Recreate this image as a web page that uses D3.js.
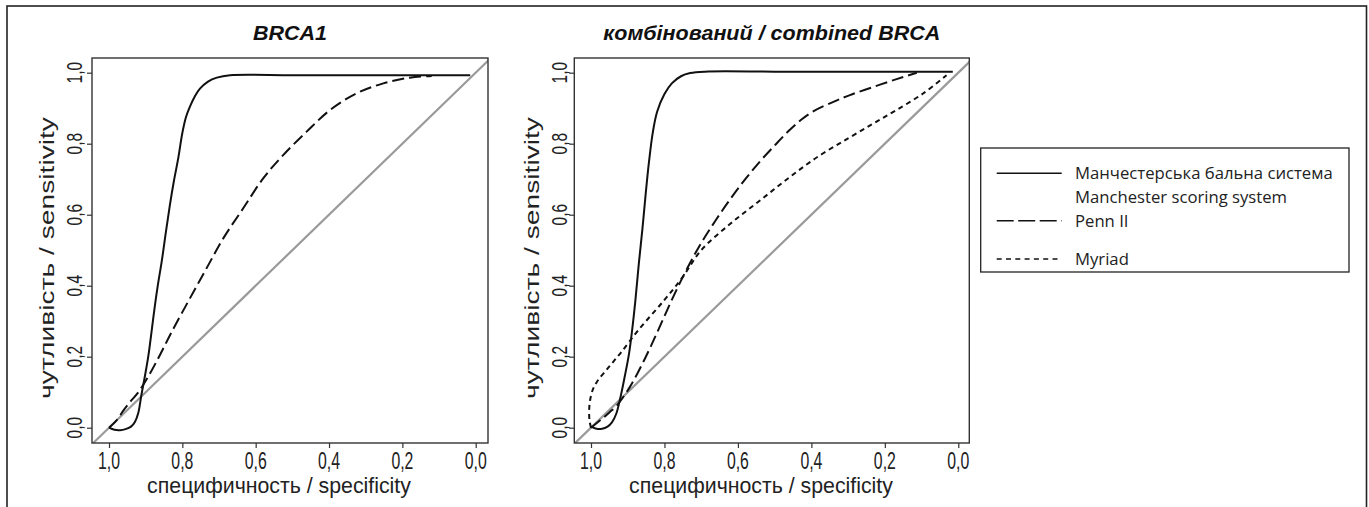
<!DOCTYPE html>
<html><head><meta charset="utf-8">
<script src="https://cdn.jsdelivr.net/npm/d3@7"></script>
<style>body{margin:0;background:#fff}svg{display:block}</style>
</head><body>
<svg id="c" width="1369" height="507"></svg>
<script>
// ---------- data ----------
const tickValues = [1.0, 0.8, 0.6, 0.4, 0.2, 0.0];
const tickLabels = ["1,0", "0,8", "0,6", "0,4", "0,2", "0,0"];
const panelTitles = ["BRCA1", "комбінований / combined BRCA"];
const xTitle = "специфичность / specificity";
const yTitle = "чутливість / sensitivity";
const legendLabels = [["Манчестерська бальна система", "Manchester scoring system"], ["Penn II"], ["Myriad"]];
const seriesNames = ["Manchester", "Penn II", "Myriad"];

// [specificity, sensitivity]
const brca1Manchester = [[1.0,0.0],[0.985,-0.006],[0.97,-0.007],[0.955,-0.004],[0.94,0.003],[0.929,0.017],[0.92,0.042],[0.912,0.09],[0.903,0.14],[0.893,0.2],[0.884,0.27],[0.876,0.335],[0.867,0.4],[0.856,0.47],[0.845,0.55],[0.834,0.627],[0.823,0.695],[0.811,0.76],[0.8,0.83],[0.79,0.875],[0.779,0.905],[0.765,0.935],[0.752,0.955],[0.73,0.975],[0.706,0.986],[0.67,0.993],[0.5,0.993],[0.3,0.993],[0.1,0.993],[0.015,0.993]];
const brca1Penn = [[1.0,0.0],[0.98,0.02],[0.961,0.048],[0.943,0.072],[0.92,0.1],[0.893,0.144],[0.861,0.205],[0.829,0.27],[0.779,0.365],[0.734,0.449],[0.688,0.534],[0.634,0.618],[0.579,0.703],[0.525,0.768],[0.461,0.834],[0.397,0.895],[0.325,0.942],[0.252,0.97],[0.179,0.986],[0.12,0.991]];
const combManchester = [[1.0,0.003],[0.985,-0.003],[0.97,-0.003],[0.955,0.003],[0.943,0.015],[0.931,0.04],[0.921,0.08],[0.908,0.145],[0.897,0.205],[0.888,0.275],[0.879,0.36],[0.87,0.46],[0.86,0.56],[0.851,0.66],[0.842,0.75],[0.832,0.83],[0.82,0.89],[0.8,0.94],[0.78,0.97],[0.755,0.99],[0.73,0.999],[0.69,1.003],[0.5,1.003],[0.3,1.003],[0.1,1.003],[0.015,1.003]];
const combPenn = [[1.0,0.0],[0.97,0.025],[0.95,0.043],[0.93,0.062],[0.894,0.115],[0.853,0.195],[0.817,0.275],[0.78,0.36],[0.74,0.445],[0.7,0.52],[0.66,0.585],[0.62,0.645],[0.58,0.7],[0.54,0.75],[0.5,0.795],[0.46,0.838],[0.427,0.868],[0.395,0.891],[0.34,0.918],[0.295,0.937],[0.231,0.96],[0.168,0.982],[0.113,1.0]];
const combMyriad = [[1.0,0.0],[1.004,0.02],[1.005,0.05],[1.002,0.08],[0.994,0.11],[0.98,0.135],[0.96,0.16],[0.94,0.185],[0.916,0.215],[0.871,0.275],[0.8,0.36],[0.75,0.425],[0.7,0.5],[0.62,0.575],[0.54,0.64],[0.46,0.705],[0.38,0.765],[0.3,0.815],[0.231,0.857],[0.168,0.895],[0.095,0.942],[0.032,0.993]];

// ---------- layout ----------
const svg = d3.select("#c");
const styles = {
  "Manchester": {dash: null},
  "Penn II": {dash: "12,5"},
  "Myriad": {dash: "5,4"}
};
const panels = [
  {title: panelTitles[0], x0: 109, x1: 475.7, boxL: 92, boxR: 488, yTickBase: 81.7, yTitleBase: 54, xTitleC: 279,
   series: [["Manchester", brca1Manchester], ["Penn II", brca1Penn]]},
  {title: panelTitles[1], x0: 591, x1: 958.3, boxL: 574.3, boxR: 969.3, yTickBase: 566.7, yTitleBase: 538.5, xTitleC: 761,
   series: [["Manchester", combManchester], ["Penn II", combPenn], ["Myriad", combMyriad]]}
];
const yTop = 58, yBot = 443;

// outer frame
svg.append("rect").attr("x", 7).attr("y", 6).attr("width", 1359.5).attr("height", 560)
  .attr("fill", "none").attr("stroke", "#222").attr("stroke-width", 1.6);

function fitScale(sel, w) { const n = sel.node().getComputedTextLength(); return w / n; }

const FONT = "'Liberation Sans', Arial, sans-serif";

panels.forEach((p, i) => {
  const x = d3.scaleLinear().domain([1, 0]).range([p.x0, p.x1]);
  const y = d3.scaleLinear().domain([0, 1]).range([427.7, 72.7]);
  const g = svg.append("g");
  const clipId = "clip" + i;
  svg.append("clipPath").attr("id", clipId).append("rect")
    .attr("x", p.boxL).attr("y", yTop).attr("width", p.boxR - p.boxL).attr("height", yBot - yTop);

  // diagonal reference line (sens = 1 - spec), extended across box
  const xs = [x.invert(p.boxL - 20), x.invert(p.boxR + 20)];
  g.append("line").attr("clip-path", `url(#${clipId})`)
    .attr("x1", x(xs[0])).attr("y1", y(1 - xs[0]))
    .attr("x2", x(xs[1])).attr("y2", y(1 - xs[1]))
    .attr("stroke", "#9a9a9a").attr("stroke-width", 2.2);

  // curves
  const line = d3.line().x(d => x(d[0])).y(d => y(d[1])).curve(d3.curveCatmullRom.alpha(0.5));
  p.series.forEach(([name, data]) => {
    g.append("path").datum(data).attr("d", line)
      .attr("fill", "none").attr("stroke", "#111").attr("stroke-width", 2)
      .attr("stroke-dasharray", styles[name].dash);
  });

  // box
  g.append("rect").attr("x", p.boxL).attr("y", yTop).attr("width", p.boxR - p.boxL).attr("height", yBot - yTop)
    .attr("fill", "none").attr("stroke", "#333").attr("stroke-width", 1.4);

  // x axis
  const xa = g.append("g").attr("transform", `translate(0,${yBot})`)
    .call(d3.axisBottom(x).tickValues(tickValues).tickSize(5).tickFormat(""));
  xa.select(".domain").remove();
  xa.selectAll(".tick line").attr("stroke", "#333").attr("stroke-width", 1.2);
  // y axis
  const ya = g.append("g").attr("transform", `translate(${p.boxL},0)`)
    .call(d3.axisLeft(y).tickValues(tickValues).tickSize(5).tickFormat(""));
  ya.select(".domain").remove();
  ya.selectAll(".tick line").attr("stroke", "#333").attr("stroke-width", 1.2);

  // x tick labels
  tickValues.forEach((v, k) => {
    const t = g.append("text").text(tickLabels[k]).attr("font-family", FONT).attr("font-size", 23)
      .attr("text-anchor", "middle").attr("fill", "#222");
    const s = fitScale(t, 22);
    t.attr("transform", `translate(${x(v)},469.3) scale(${s},1)`);
  });
  // y tick labels (rotated)
  tickValues.forEach((v, k) => {
    const t = g.append("text").text(tickLabels[k]).attr("font-family", FONT).attr("font-size", 22)
      .attr("text-anchor", "middle").attr("fill", "#222");
    const s = fitScale(t, 21.5);
    t.attr("transform", `translate(${p.yTickBase},${y(v)}) rotate(-90) scale(${s},1)`);
  });

  // x title
  const xt = g.append("text").text(xTitle).attr("font-family", FONT).attr("font-size", 22)
    .attr("text-anchor", "middle").attr("fill", "#222");
  const sx = fitScale(xt, 264);
  xt.attr("transform", `translate(${p.xTitleC},492.7) scale(${sx},1)`);
  // y title
  const yt = g.append("text").text(yTitle).attr("font-family", FONT).attr("font-size", 21)
    .attr("text-anchor", "middle").attr("fill", "#222");
  const sy = fitScale(yt, 282);
  yt.attr("transform", `translate(${p.yTitleBase},258) rotate(-90) scale(${sy},1)`);

  // panel title
  const tt = g.append("text").text(p.title).attr("font-family", FONT).attr("font-size", 20)
    .attr("font-weight", "bold").attr("font-style", "italic").attr("text-anchor", "middle").attr("fill", "#111");
  p.titleNode = tt;
  p.titleCenter = (p.boxL + p.boxR) / 2;
});
// panel titles share one horizontal scale fitted to the long title
const ts = fitScale(panels[1].titleNode, 337);
panels.forEach(p => p.titleNode.attr("transform", `translate(${p.titleCenter},39.5) scale(${ts},1)`));

// ---------- legend ----------
const lg = svg.append("g");
lg.append("rect").attr("x", 980.7).attr("y", 148).attr("width", 1349 - 980.7).attr("height", 272 - 148)
  .attr("fill", "#fff").attr("stroke", "#222").attr("stroke-width", 1.3);
const LFONT = "'Open Sans', 'Noto Sans', sans-serif";
const rows = [
  {name: seriesNames[0], lineY: 173.3, lines: legendLabels[0], base: [179, 202.5]},
  {name: seriesNames[1], lineY: 220.7, lines: legendLabels[1], base: [226.5]},
  {name: seriesNames[2], lineY: 259, lines: legendLabels[2], base: [265]}
];
const legDash = {"Manchester": null, "Penn II": "17,4.5", "Myriad": "5,4.3"};
let lscale = null;
rows.forEach(r => {
  lg.append("line").attr("x1", 996.7).attr("x2", 1061.7).attr("y1", r.lineY).attr("y2", r.lineY)
    .attr("stroke", "#111").attr("stroke-width", 1.6).attr("stroke-dasharray", legDash[r.name]);
  r.lines.forEach((txt, j) => {
    const t = lg.append("text").text(txt).attr("font-family", LFONT).attr("font-size", 16.5)
      .attr("fill", "#222");
    if (lscale === null) lscale = fitScale(t, 258);
    t.attr("transform", `translate(1075,${r.base[j]}) scale(${lscale},1)`);
  });
});
</script>
</body></html>
